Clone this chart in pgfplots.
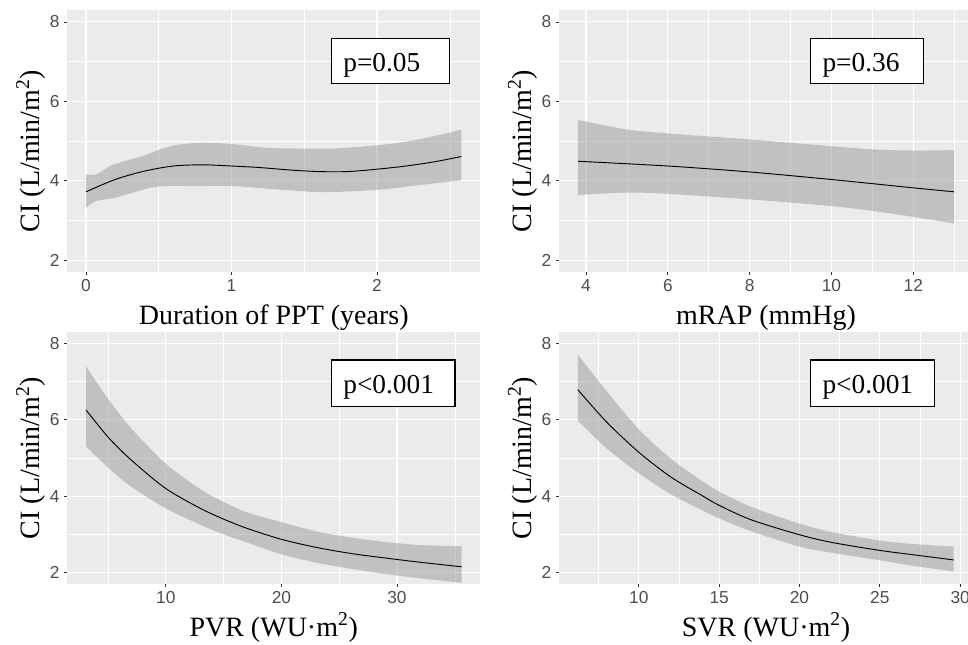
\documentclass[border=0pt]{standalone}
\usepackage{fontspec}
\setmainfont{Liberation Serif}
\newfontfamily\ticksans{Liberation Sans}
\usepackage{pgfplots}
\pgfplotsset{compat=1.18}
\usepgfplotslibrary{fillbetween}

\definecolor{panelbg}{RGB}{235,235,235}
\definecolor{ribbon}{RGB}{153,153,153}
\definecolor{ticktext}{RGB}{77,77,77}
\definecolor{tickmark}{RGB}{51,51,51}

\tikzset{
  pbox/.style={draw=black, line width=0.8pt, fill=white},
  ptext/.style={anchor=base west, inner sep=0pt, font=\fontsize{20.5}{24}\selectfont},
}

\pgfplotsset{
  ggpanel/.style={
    scale only axis,
    anchor=south west,
    axis background/.style={fill=panelbg},
    axis line style={draw=none},
    ymin=1.7, ymax=8.3,
    ytick={2,4,6,8}, minor ytick={3,5,7},
    xmajorgrids, ymajorgrids, xminorgrids, yminorgrids,
    major grid style={white, line width=0.8pt},
    minor grid style={white, line width=0.4pt},
    tick align=outside,
    major tick length=2.2pt, minor tick length=0pt,
    xtick pos=left, ytick pos=left,
    major tick style={tickmark, line width=0.6pt},
    ticklabel style={font=\ticksans\fontsize{13}{13}\selectfont, text=ticktext},
    /pgf/number format/assume math mode=true,
    xlabel style={font=\fontsize{21}{24}\selectfont, at={([yshift=-39pt]rel axis cs:0.5,0)}, anchor=base},
    ylabel style={font=\fontsize{21}{24}\selectfont, at={([xshift=-21pt]rel axis cs:0,0.5)}, anchor=base},
    ylabel={CI (L/min/m\textsuperscript{2})},
  },
  toprow/.style={ylabel style={at={([xshift=-21pt]rel axis cs:0,0.462)}}},
  fitline/.style={black, line width=0.7pt, smooth},
  edge/.style={draw=none, smooth},
  band/.style={fill=ribbon, fill opacity=0.5, draw=none},
}

\begin{document}
\begin{tikzpicture}

% top left: duration of PPT
\begin{axis}[ggpanel, toprow, at={(50.4pt,279pt)}, width=309.75pt, height=196.5pt,
  xmin=-0.129, xmax=2.709, xtick={0,1,2}, minor xtick={0.5,1.5,2.5},
  xlabel={Duration of PPT (years)}]
\addplot[edge, name path=up] coordinates {(0,4.16) (0.073,4.16) (0.165,4.37) (0.28,4.51) (0.39,4.62) (0.51,4.79) (0.62,4.90) (0.78,4.95) (0.99,4.93) (1.24,4.83) (1.47,4.81) (1.70,4.81) (1.93,4.87) (2.16,4.96) (2.39,5.12) (2.58,5.29)};
\addplot[edge, name path=lo] coordinates {(0,3.32) (0.073,3.49) (0.188,3.56) (0.325,3.70) (0.44,3.82) (0.554,3.865) (0.78,3.865) (1.01,3.865) (1.24,3.80) (1.47,3.74) (1.61,3.71) (1.81,3.73) (2.04,3.78) (2.27,3.88) (2.58,4.01)};
\addplot[band] fill between[of=up and lo];
\addplot[fitline] coordinates {(0,3.72) (0.2,4.03) (0.4,4.24) (0.6,4.37) (0.8,4.40) (1.0,4.37) (1.2,4.33) (1.4,4.27) (1.6,4.23) (1.8,4.23) (2.0,4.29) (2.2,4.37) (2.4,4.48) (2.58,4.61)};
\draw[pbox] (rel axis cs:0.639,0.721) rectangle (rel axis cs:0.925,0.893);
\node[ptext] at (rel axis cs:0.668,0.764) {p=0.05};
\end{axis}

% top right: mRAP
\begin{axis}[ggpanel, toprow, at={(419.25pt,279pt)}, width=310.5pt, height=196.5pt,
  xmin=3.34, xmax=13.46, xtick={4,6,8,10,12}, minor xtick={5,7,9,11,13},
  xlabel={mRAP (mmHg)}]
\addplot[edge, name path=up] coordinates {(3.8,5.53) (5,5.29) (6,5.19) (8,5.04) (10,4.87) (11,4.79) (12,4.76) (13,4.77)};
\addplot[edge, name path=lo] coordinates {(3.8,3.64) (5,3.70) (6,3.67) (8,3.53) (10,3.36) (11,3.24) (12,3.09) (13,2.92)};
\addplot[band] fill between[of=up and lo];
\addplot[fitline] coordinates {(3.8,4.49) (6,4.37) (8,4.22) (10,4.03) (12,3.82) (13,3.72)};
\draw[pbox] (rel axis cs:0.608,0.721) rectangle (rel axis cs:0.880,0.893);
\node[ptext] at (rel axis cs:0.636,0.764) {p=0.36};
\end{axis}

% bottom left: PVR
\begin{axis}[ggpanel, at={(50.4pt,45pt)}, width=309.75pt, height=189pt,
  xmin=1.47, xmax=37.2, xtick={10,20,30}, minor xtick={5,15,25,35},
  xlabel={PVR (WU·m\textsuperscript{2})}]
\addplot[edge, name path=up] coordinates {(3.1,7.40) (5,6.55) (7,5.78) (10,4.85) (13,4.18) (15,3.85) (17,3.58) (20,3.32) (23,3.08) (26,2.92) (29,2.80) (32,2.72) (35.6,2.69)};
\addplot[edge, name path=lo] coordinates {(3.1,5.30) (5,4.75) (7,4.25) (10,3.68) (13,3.25) (15,3.00) (17,2.79) (20,2.48) (23,2.26) (26,2.10) (29,1.96) (32,1.85) (35.6,1.73)};
\addplot[band] fill between[of=up and lo];
\addplot[fitline] coordinates {(3.1,6.26) (5,5.55) (7,4.95) (10,4.20) (13,3.68) (15,3.40) (17,3.16) (20,2.87) (23,2.66) (26,2.50) (29,2.38) (32,2.27) (35.6,2.15)};
\draw[pbox] (rel axis cs:0.639,0.706) rectangle (rel axis cs:0.939,0.889);
\node[ptext] at (rel axis cs:0.668,0.755) {p<0.001};
\end{axis}

% bottom right: SVR
\begin{axis}[ggpanel, at={(419.25pt,45pt)}, width=310.5pt, height=189pt,
  xmin=5.03, xmax=30.8, xtick={10,15,20,25,30}, minor xtick={7.5,12.5,17.5,22.5,27.5},
  xlabel={SVR (WU·m\textsuperscript{2})}]
\addplot[edge, name path=up] coordinates {(6.2,7.71) (8,6.75) (10,5.75) (12,4.98) (14,4.38) (15,4.12) (17,3.72) (20,3.28) (22,3.06) (25,2.84) (27,2.75) (29.6,2.68)};
\addplot[edge, name path=lo] coordinates {(6.2,5.98) (8,5.25) (10,4.60) (12,4.05) (14,3.62) (15,3.42) (17,3.08) (20,2.68) (22,2.52) (25,2.32) (27,2.18) (29.6,2.03)};
\addplot[band] fill between[of=up and lo];
\addplot[fitline] coordinates {(6.2,6.79) (8,5.94) (10,5.15) (12,4.50) (14,4.00) (15,3.76) (17,3.38) (20,2.99) (22,2.79) (25,2.58) (27,2.47) (29.6,2.33)};
\draw[pbox] (rel axis cs:0.608,0.706) rectangle (rel axis cs:0.908,0.889);
\node[ptext] at (rel axis cs:0.636,0.755) {p<0.001};
\end{axis}

\pgfresetboundingbox
\useasboundingbox (0,0) rectangle (726pt,483pt);
\end{tikzpicture}
\end{document}
